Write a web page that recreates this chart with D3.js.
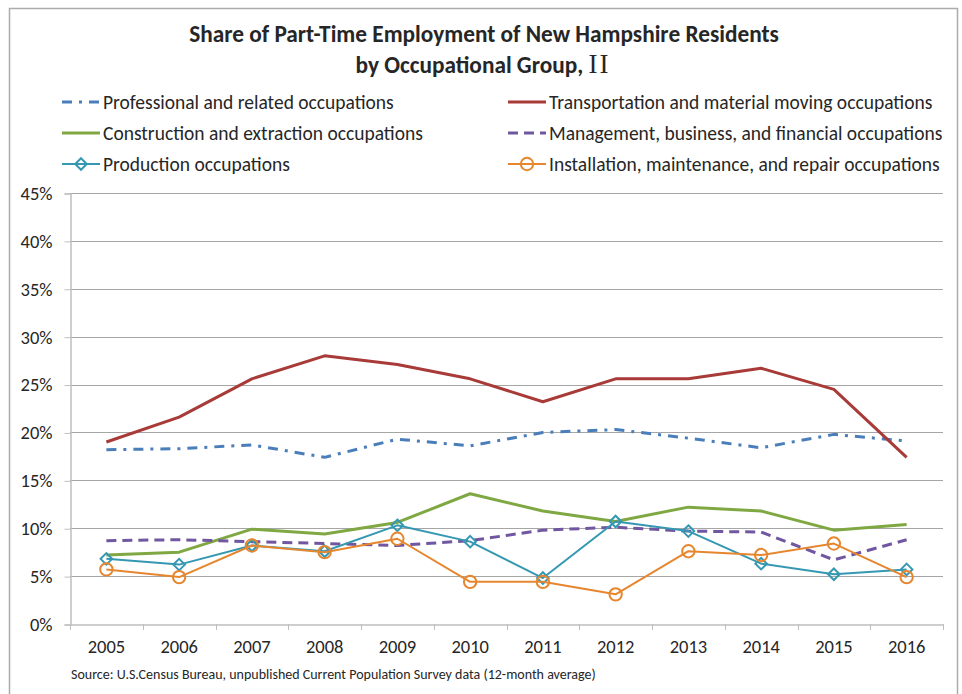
<!DOCTYPE html>
<html>
<head>
<meta charset="utf-8">
<script src="https://cdn.jsdelivr.net/npm/d3@7"></script>
<style>
body { margin: 0; background: #fff; }
text { font-family: Carlito, Lato, "Open Sans", sans-serif; fill: #262626; }
</style>
</head>
<body>
<svg id="chart" width="962" height="694"></svg>
<script>
var years = [2005, 2006, 2007, 2008, 2009, 2010, 2011, 2012, 2013, 2014, 2015, 2016];
var professional = [18.2, 18.3, 18.7, 17.4, 19.3, 18.6, 20.0, 20.3, 19.4, 18.4, 19.8, 19.1];
var transportation = [19.0, 21.6, 25.6, 28.0, 27.1, 25.6, 23.2, 25.6, 25.6, 26.7, 24.5, 17.4];
var construction = [7.2, 7.5, 9.9, 9.4, 10.6, 13.6, 11.8, 10.7, 12.2, 11.8, 9.8, 10.4];
var management = [8.7, 8.8, 8.6, 8.4, 8.2, 8.7, 9.8, 10.1, 9.7, 9.6, 6.7, 8.8];
var production = [6.8, 6.2, 8.2, 7.6, 10.3, 8.6, 4.8, 10.7, 9.7, 6.3, 5.2, 5.7];
var installation = [5.7, 4.9, 8.2, 7.5, 8.9, 4.4, 4.4, 3.1, 7.6, 7.2, 8.4, 4.9];
var yTicks = [0, 5, 10, 15, 20, 25, 30, 35, 40, 45];

var series = [
    {lab: "Professional and related occupations", vals: professional, col: "#4A7EBB", w: 3, dash: "10,7,3,7", mark: null},
    {lab: "Transportation and material moving occupations", vals: transportation, col: "#A83B38", w: 3, dash: null, mark: null},
    {lab: "Construction and extraction occupations", vals: construction, col: "#7FA843", w: 3, dash: null, mark: null},
    {lab: "Management, business, and financial occupations", vals: management, col: "#7057A0", w: 3, dash: "10,6", mark: null},
    {lab: "Production occupations", vals: production, col: "#3598B3", w: 2, dash: null, mark: "diamond"},
    {lab: "Installation, maintenance, and repair occupations", vals: installation, col: "#E6862E", w: 2, dash: null, mark: "circle"}
];

var svg = d3.select("#chart");
var m = {left: 70, right: 943, top: 193, bottom: 624};

// chart frame
svg.append("rect")
    .attr("x", 9.5).attr("y", 8.5)
    .attr("width", 948).attr("height", 700)
    .style("fill", "none").style("stroke", "#ababab").style("stroke-width", 1.5);

// title
svg.append("text")
    .attr("x", 484).attr("y", 42)
    .attr("text-anchor", "middle")
    .style("font-size", "23.3px").style("font-weight", "bold")
    .text("Share of Part-Time Employment of New Hampshire Residents");
var t2 = svg.append("text")
    .attr("x", 483).attr("y", 73)
    .attr("text-anchor", "middle")
    .style("font-size", "23.3px").style("font-weight", "bold");
t2.append("tspan").text("by Occupational Group, ");
t2.append("tspan").text("II")
    .style("font-family", "'Liberation Serif', 'DejaVu Serif', serif")
    .style("font-weight", "normal")
    .style("font-size", "27px")
    .style("letter-spacing", "2px");

var x = d3.scaleBand().domain(years).range([m.left, m.right]);
var y = d3.scaleLinear().domain([0, 45]).range([m.bottom, m.top]);

// gridlines
svg.append("g").selectAll("line")
    .data(yTicks.slice(1))
    .enter().append("line")
    .attr("x1", m.left).attr("x2", m.right)
    .attr("y1", function(d) { return Math.round(y(d)) + 0.5; })
    .attr("y2", function(d) { return Math.round(y(d)) + 0.5; })
    .style("stroke", "#a6a6a6").style("stroke-width", 1);

// y axis
var yAxis = svg.append("g")
    .attr("transform", "translate(" + (m.left + 0.5) + ",0.5)")
    .call(d3.axisLeft(y).tickValues(yTicks).tickSize(6).tickPadding(12)
	  .tickFormat(function(d) { return d + "%"; }));
yAxis.select(".domain").style("stroke", "#bfbfbf").style("stroke-width", 1.5);
yAxis.selectAll(".tick line").style("stroke", "#bfbfbf");
yAxis.selectAll("text").style("font-size", "18.5px").style("font-family", null);

// x axis
var xAxis = svg.append("g")
    .attr("transform", "translate(0," + (m.bottom + 0.5) + ")")
    .call(d3.axisBottom(x).tickSize(0).tickPadding(15));
xAxis.select(".domain").style("stroke", "#bfbfbf").style("stroke-width", 1.5);
xAxis.selectAll("text").style("font-size", "18.5px").style("font-family", null);
svg.append("g").selectAll("line")
    .data(years.concat(["end"]))
    .enter().append("line")
    .attr("x1", function(d, i) { return Math.round(m.left + i * x.step()) + 0.5; })
    .attr("x2", function(d, i) { return Math.round(m.left + i * x.step()) + 0.5; })
    .attr("y1", m.bottom).attr("y2", m.bottom + 6)
    .style("stroke", "#bfbfbf");

// lines
var line = d3.line()
    .x(function(d, i) { return x(years[i]) + x.bandwidth() / 2; })
    .y(function(d) { return y(d); });

series.forEach(function(s) {
    svg.append("path")
	.datum(s.vals)
	.attr("d", line)
	.style("fill", "none")
	.style("stroke", s.col)
	.style("stroke-width", s.w)
	.style("stroke-dasharray", s.dash)
	.style("stroke-linejoin", "round");
    if (s.mark) {
	var sym = s.mark == "diamond" ? d3.symbolDiamond2 : d3.symbolCircle;
	var size = s.mark == "diamond" ? 85 : 120;
	svg.append("g").selectAll("path")
	    .data(s.vals)
	    .enter().append("path")
	    .attr("d", d3.symbol().type(sym).size(size))
	    .attr("transform", function(d, i) {
		return "translate(" + (x(years[i]) + x.bandwidth() / 2) + "," + y(d) + ")";
	    })
	    .style("fill", "none")
	    .style("stroke", s.col)
	    .style("stroke-width", 2);
    }
});

// legend
var legend = svg.append("g");
series.forEach(function(s, i) {
    var lx = i % 2 == 0 ? 62 : 508;
    var ly = 102 + Math.floor(i / 2) * 31;
    var g = legend.append("g").attr("transform", "translate(" + lx + "," + ly + ")");
    g.append("line")
	.attr("x1", 0).attr("x2", 38)
	.style("stroke", s.col)
	.style("stroke-width", s.w)
	.style("stroke-dasharray", s.dash);
    if (s.mark) {
	var sym = s.mark == "diamond" ? d3.symbolDiamond2 : d3.symbolCircle;
	g.append("path")
	    .attr("d", d3.symbol().type(sym).size(s.mark == "diamond" ? 85 : 120))
	    .attr("transform", "translate(19,0)")
	    .style("fill", "none")
	    .style("stroke", s.col)
	    .style("stroke-width", 2);
    }
    g.append("text")
	.attr("x", 41).attr("y", 7)
	.style("font-size", "19.5px")
	.text(s.lab);
});

// source
svg.append("text")
    .attr("x", 71).attr("y", 679)
    .style("font-size", "14px")
    .text("Source: U.S.Census Bureau, unpublished Current Population Survey data (12-month average)");
</script>
</body>
</html>
